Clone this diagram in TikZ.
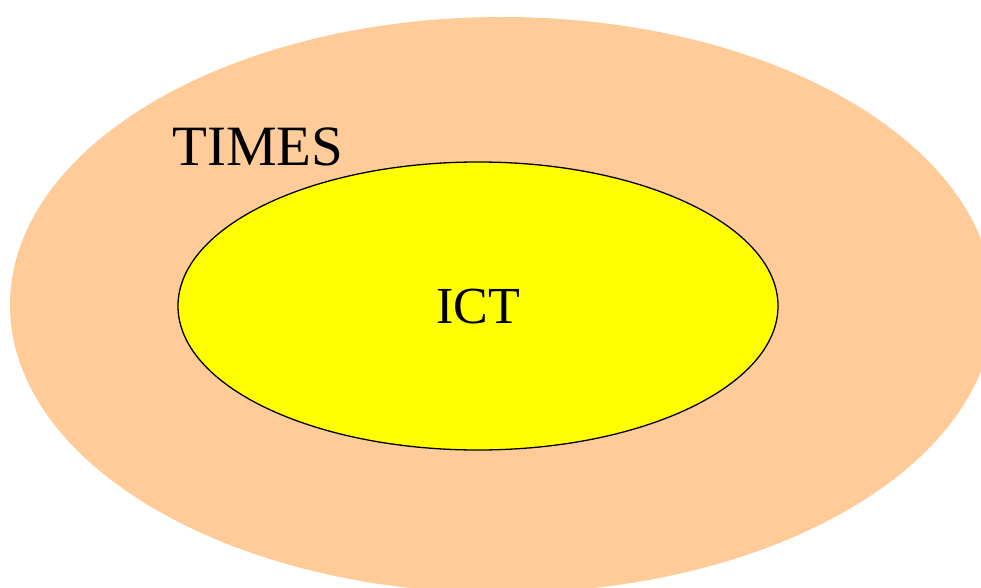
\documentclass[tikz,border=0pt]{standalone}
\usepackage{fontspec}
\setmainfont{Liberation Serif}
\definecolor{outerfill}{HTML}{FFCC99}
\definecolor{innerfill}{HTML}{FFFF00}
\begin{document}
\begin{tikzpicture}[x=1pt,y=-1pt]
\useasboundingbox (0,0) rectangle (981,588);
\begin{scope}
\clip (0,0) rectangle (981,588);
\fill[outerfill] (502,305) ellipse [x radius=492, y radius=288];
\end{scope}
\draw[fill=innerfill, line width=1.3pt] (478,306) ellipse [x radius=300, y radius=144];
\node[anchor=base west, inner sep=0pt, font=\fontsize{57}{60}\selectfont] (times) at (172,165) {TIMES};
\node[anchor=base, inner sep=0pt, font=\fontsize{52}{56}\selectfont] (ict) at (478,323) {ICT};
\end{tikzpicture}
\end{document}
